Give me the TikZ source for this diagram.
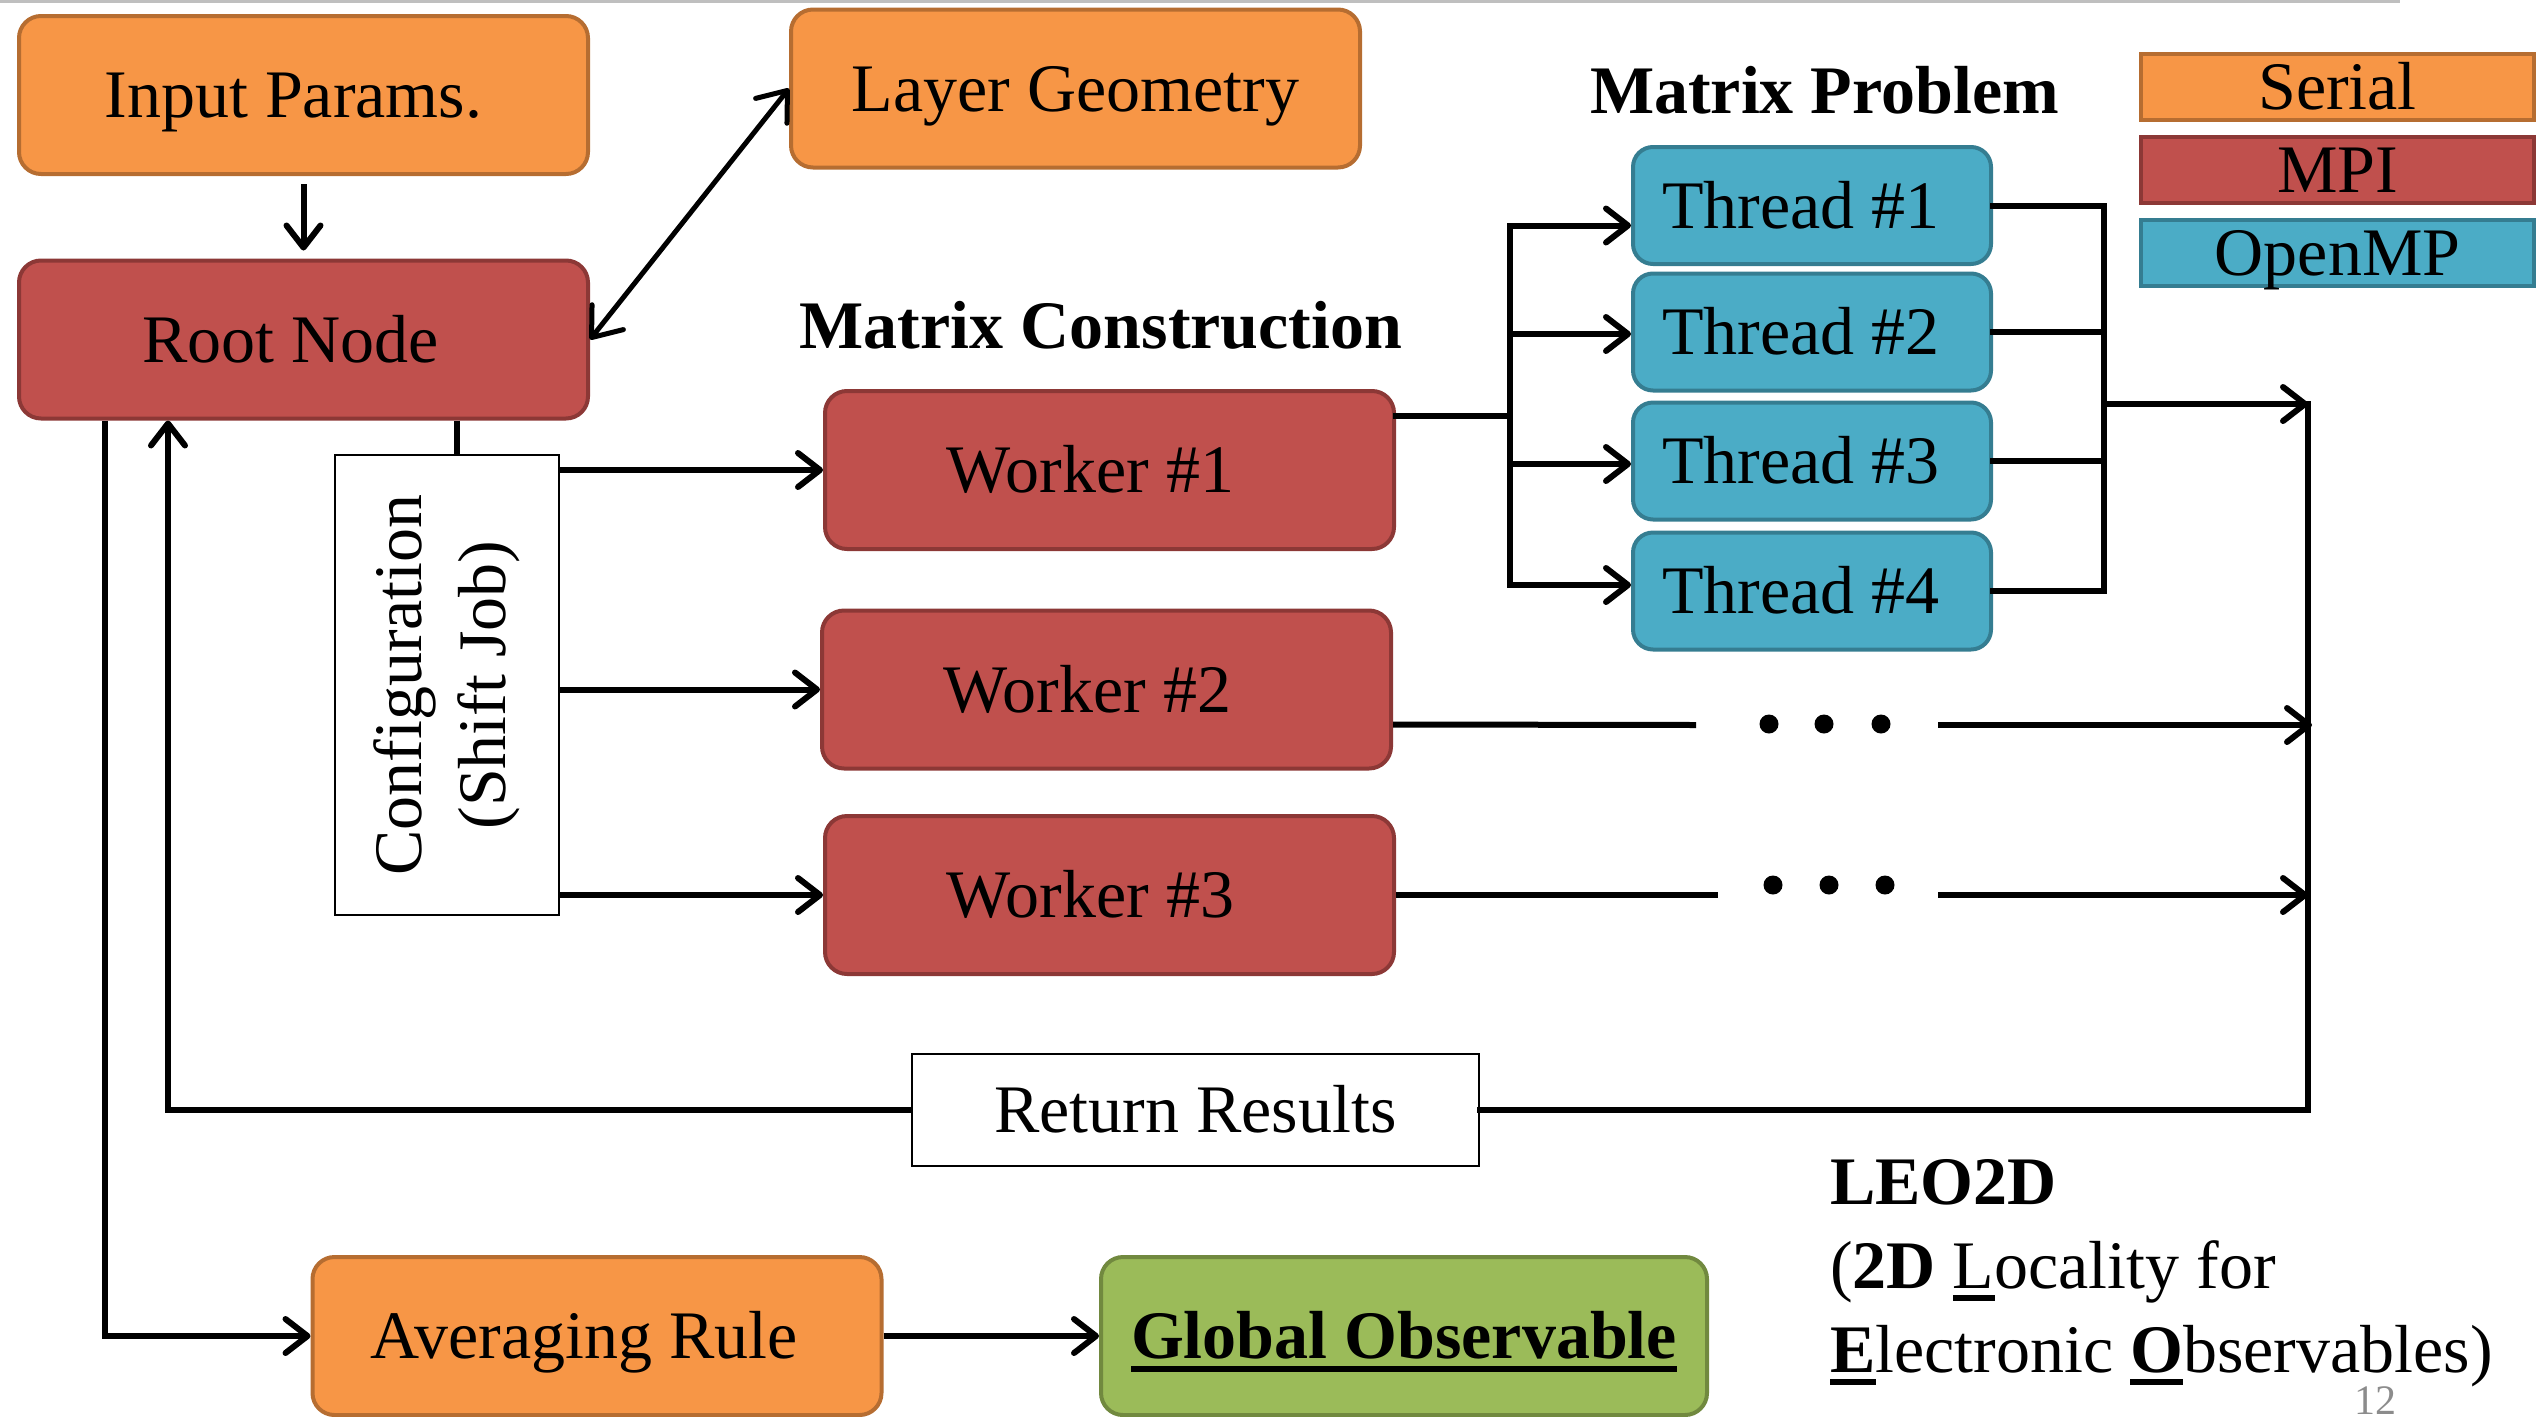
\documentclass[tikz,border=0pt]{standalone}
\usepackage{fontspec}
\setmainfont{Liberation Serif}
\usetikzlibrary{arrows.meta,calc}

\definecolor{serialfill}{HTML}{F79646}
\definecolor{serialdraw}{HTML}{B66D31}
\definecolor{mpifill}{HTML}{C0504D}
\definecolor{mpidraw}{HTML}{8C3836}
\definecolor{ompfill}{HTML}{4BACC6}
\definecolor{ompdraw}{HTML}{357D91}
\definecolor{obsfill}{HTML}{9BBB59}
\definecolor{obsdraw}{HTML}{71893F}

% thick underline scaled to the large text
\newcommand\ulinebox[1]{\setbox0\hbox{#1}\rlap{\rule[-13pt]{\wd0}{6pt}}\box0}

\begin{document}
\begin{tikzpicture}[x=1pt,y=-1pt,
  font=\fontsize{68}{84}\selectfont,
  box/.style={rounded corners=22pt, line width=4pt, minimum width=569pt,
    minimum height=158pt, text height=45pt, text depth=0pt, inner sep=0pt},
  serial/.style={box, fill=serialfill, draw=serialdraw},
  mpi/.style={box, fill=mpifill, draw=mpidraw},
  omp/.style={box, fill=ompfill, draw=ompdraw, minimum width=358pt,
    minimum height=117pt, rounded corners=20pt},
  legend/.style={line width=4pt, minimum width=393pt, minimum height=66pt,
    text height=45pt, text depth=0pt, inner sep=0pt},
  plain/.style={draw=black, line width=2pt, fill=white, inner sep=0pt},
  nudge/.style={execute at begin node={\hspace*{#1}}},
  conn/.style={line width=6pt},
  bus/.style={line width=6pt, line cap=rect},
  tip/.tip={Straight Barb[length=22pt,width=34pt,round]},
  bigtip/.tip={Straight Barb[length=26pt,width=40pt,round]},
  arr/.style={conn, -tip},
  dblarr/.style={line width=5pt, bigtip-bigtip},
  dot/.style={fill=black},
]
\useasboundingbox (0,0) rectangle (2547,1416);
\draw[black!25, line width=3pt] (0,1) -- (2400,1);

% serial stages
\node[serial, nudge=-20pt] (inp) at (303.5,95) {Input Params.};
\node[serial] (geo) at (1075.5,88.5) {Layer Geometry};
\node[mpi, nudge=-26pt] (root) at (303.5,339.5) {Root Node};

% headings
\node[font=\fontsize{68}{84}\selectfont\bfseries] (mch) at (1101,325) {Matrix Construction};
\node[font=\fontsize{68}{84}\selectfont\bfseries] (mph) at (1824.5,90) {Matrix Problem};

% MPI workers
\node[mpi, nudge=-38pt] (w1) at (1109.5,470) {Worker \#1};
\node[mpi, nudge=-38pt] (w2) at (1106.5,689.5) {Worker \#2};
\node[mpi, nudge=-38pt] (w3) at (1109.5,895) {Worker \#3};

% OpenMP threads
\node[omp, nudge=-22pt] (t1) at (1812,205.5) {Thread \#1};
\node[omp, nudge=-22pt] (t2) at (1812,332) {Thread \#2};
\node[omp, nudge=-22pt] (t3) at (1812,461) {Thread \#3};
\node[omp, nudge=-22pt] (t4) at (1812,591) {Thread \#4};

% legend
\node[legend, fill=serialfill, draw=serialdraw] (lgs) at (2337.5,87) {Serial};
\node[legend, fill=mpifill, draw=mpidraw] (lgm) at (2337.5,170) {MPI};
\node[legend, fill=ompfill, draw=ompdraw] (lgo) at (2337.5,253) {OpenMP};

% configuration and return boxes
\node[plain, rotate=90, minimum width=460pt, minimum height=224pt, align=center]
  (cfg) at (447,685) {Configuration\\(Shift Job)};
\node[plain, minimum width=567pt, minimum height=112pt, text height=45pt, text depth=0pt]
  (ret) at (1195.5,1110) {Return Results};

% final stages
\node[serial, nudge=-26pt] (avg) at (597,1336) {Averaging Rule};
\node[box, fill=obsfill, draw=obsdraw, minimum width=606pt] (obs) at (1404,1336)
  {\textbf{\ulinebox{Global Observable}}};

% acronym
\node[anchor=north west, align=left, inner sep=0pt] (leo) at (1830,1159)
  {\textbf{LEO2D}\\(\textbf{2D} \ulinebox{L}ocality for\\
   \ulinebox{\textbf{E}}lectronic \ulinebox{\textbf{O}}bservables)};
\node[text=black!45, font=\fontsize{42}{50}\selectfont, anchor=base, inner sep=0pt]
  (pg) at (2375,1414) {12};

% helper coordinates
\coordinate (busL) at (1510,0);
\coordinate (busR) at (2104,0);
\coordinate (w1out) at ([yshift=54pt]w1.east);
\coordinate (t1in) at ([yshift=-20pt]t1.west);
\coordinate (t2in) at ([yshift=-2pt]t2.west);
\coordinate (t3in) at ([yshift=-3pt]t3.west);
\coordinate (t4in) at ([yshift=6pt]t4.west);
\coordinate (tout) at (2104,404);
\coordinate (rjoin) at (2308,404);
\coordinate (rbot) at (2308,1110);
\coordinate (w2out) at ([yshift=-35pt]w2.east);
\coordinate (g2a) at (1696,725);
\coordinate (g2b) at (1938,725);
\coordinate (g3a) at (1718,895);
\coordinate (g3b) at (1938,895);
\coordinate (rl) at (168,1110);
\coordinate (ll) at (105,1336);
\coordinate (cfgtop) at ([xshift=10pt]cfg.east);

% root connections
\draw[arr, shorten <=8pt, shorten >=8pt] (inp.south) -- (root.north);
\draw[dblarr] (root.east) -- (geo.west);
\draw[conn] (cfgtop |- root.south) -- (cfgtop);
\draw[arr] (cfg.south |- w1.west) -- (w1.west);
\draw[arr] (cfg.south |- w2.west) -- (w2.west);
\draw[arr] (cfg.south |- w3.west) -- (w3.west);

% worker 1 fans out to the threads
\draw[bus] (w1out) -- (w1out -| busL);
\draw[bus] (t1in -| busL) -- (t4in -| busL);
\draw[arr] (t1in -| busL) -- (t1in);
\draw[arr] (t2in -| busL) -- (t2in);
\draw[arr] (t3in -| busL) -- (t3in);
\draw[arr] (t4in -| busL) -- (t4in);

% threads join
\draw[bus] (t1.east) -- (t1.east -| busR) -- (t4.east -| busR) -- (t4.east);
\draw[bus] (t2.east) -- (t2.east -| busR);
\draw[bus] (t3.east) -- (t3.east -| busR);
\draw[arr] (tout) -- (rjoin);

% workers 2 and 3
\draw[conn] (w2out) -- (g2a);
\draw[arr] (g2b) -- ([xshift=4pt]g2b -| rjoin);
\fill[dot] (1769,724) circle (9.5pt) (1824,724) circle (9.5pt) (1881,724) circle (9.5pt);
\draw[conn] (w3.east) -- (g3a);
\draw[arr] (g3b) -- (g3b -| rjoin);
\fill[dot] (1773,885) circle (9.5pt) (1829,885) circle (9.5pt) (1885,885) circle (9.5pt);

% results return to the root
\draw[bus] (rjoin) -- (rbot) -- (ret.east);
\draw[arr] (ret.west) -- (rl) -- (rl |- root.south);

% averaging
\draw[arr] (ll |- root.south) -- (ll) -- (avg.west);
\draw[arr] (avg.east) -- (obs.west);
\end{tikzpicture}
\end{document}
